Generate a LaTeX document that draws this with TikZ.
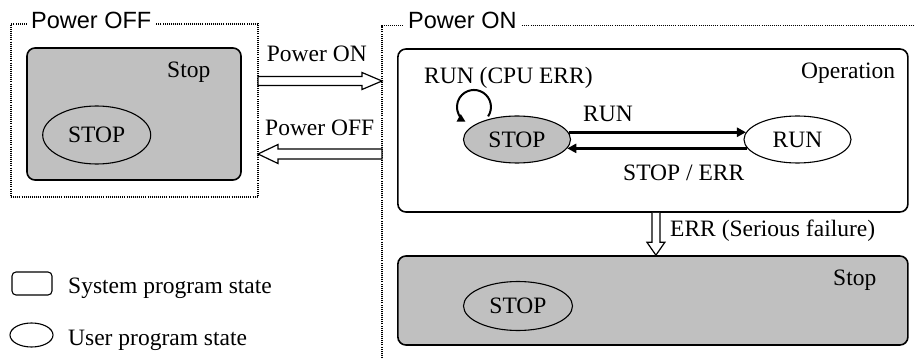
\documentclass[tikz,border=0pt]{standalone}
\usepackage{fontspec}
\setmainfont{Liberation Serif}
\newfontfamily\headfont{Liberation Sans}
\usetikzlibrary{shapes.geometric,arrows.meta,calc}
\definecolor{stategray}{RGB}{192,192,192}

\begin{document}
\begin{tikzpicture}[x=1pt,y=1pt,
  every node/.style={font=\fontsize{23.5}{28}\selectfont, inner sep=0pt},
  txt/.style={anchor=base west},
  frame/.style={line width=1.3pt, dash pattern=on 1pt off 1.1pt},
  framehead/.style={anchor=base west, font=\headfont\fontsize{23.5}{28}\selectfont,
                    fill=white, inner xsep=4pt, inner ysep=3pt},
  sysstate/.style={draw, line width=1.6pt, rounded corners=8pt},
  usrstate/.style={draw, ellipse, line width=1.1pt},
  grayfill/.style={fill=stategray},
  trans/.style={line width=2.6pt, -{Triangle[length=9pt,width=9pt]}},
  selfloop/.style={line width=2pt, -{Triangle[length=8pt,width=8pt]}},
  hollow/.style={draw, line width=1.2pt, fill=white, line join=miter},
]
\useasboundingbox (0,0) rectangle (915,-358);

% ---- Power OFF area ----
\node[frame, draw, minimum width=247, minimum height=173] (offframe) at (134.5,-110.5) {};
\node[framehead] (offhead) at (27,-28.3) {Power OFF};
\node[sysstate, grayfill, minimum width=214, minimum height=132] (offbox) at (134,-114) {};
\node[txt] (offboxlbl) at (167,-78) {Stop};
\node[usrstate, grayfill, minimum width=108, minimum height=58] (offstop) at (96.7,-135) {STOP};

% ---- Power ON area ----
\draw[frame] (382,-358) -- (382,-25.6) -- (915,-25.6);
\node[framehead] (onhead) at (404,-29) {Power ON};

\node[sysstate, fill=white, minimum width=510, minimum height=163] (opbox) at (652.9,-130.5) {};
\node[txt] (opboxlbl) at (801,-79) {Operation};
\node[usrstate, grayfill, minimum width=107, minimum height=47] (runstop) at (517,-139.5) {STOP};
\node[usrstate, fill=white, minimum width=107, minimum height=47] (runrun) at (797.5,-139.5) {RUN};

\draw[trans] (runstop.8) -- (runrun.172);
\draw[trans] (runrun.190.5) -- (runstop.-10.5);
\draw[selfloop] ([shift={(-28.9,23.1)}]runstop.center) arc[start angle=-33.7, end angle=240.6, radius=17];

\node[txt] (cpuerrlbl) at (424,-83.6) {RUN (CPU ERR)};
\node[txt] (runlbl) at (583,-122) {RUN};
\node[txt] (stoperrlbl) at (623,-181) {STOP / ERR};

\node[sysstate, grayfill, minimum width=510, minimum height=89] (haltbox) at (652.9,-300.5) {};
\node[txt] (haltboxlbl) at (833,-285) {Stop};
\node[usrstate, grayfill, minimum width=109, minimum height=49] (haltstop) at (518,-306) {STOP};

% ---- serious failure transition ----
\coordinate (errA) at ($(opbox.south)+(3,0)$);
\coordinate (errB) at ($(haltbox.north)+(3,0)$);
\draw[hollow] ($(errA)+(-4,0)$) -- ($(errB)+(-4,13)$) -- ($(errB)+(-9,13)$) -- (errB)
  -- ($(errB)+(9,13)$) -- ($(errB)+(4,13)$) -- ($(errA)+(4,0)$);
\node[txt] (errlbl) at (670,-236) {ERR (Serious failure)};

% ---- power transitions ----
\coordinate (pwonA) at (258,-81);
\coordinate (pwonB) at (382,-81);
\draw[hollow] ($(pwonA)+(0,4.5)$) -- ($(pwonB)+(-20,4.5)$) -- ($(pwonB)+(-20,8.5)$) -- (pwonB)
  -- ($(pwonB)+(-20,-8.5)$) -- ($(pwonB)+(-20,-4.5)$) -- ($(pwonA)+(0,-4.5)$) -- cycle;
\node[txt] (pwonlbl) at (266.7,-61.7) {Power ON};

\coordinate (pwoffA) at (382,-154);
\coordinate (pwoffB) at (258,-154);
\draw[hollow] ($(pwoffA)+(0,5)$) -- ($(pwoffB)+(20,5)$) -- ($(pwoffB)+(20,9.5)$) -- (pwoffB)
  -- ($(pwoffB)+(20,-9.5)$) -- ($(pwoffB)+(20,-5)$) -- ($(pwoffA)+(0,-5)$) -- cycle;
\node[txt] (pwofflbl) at (265,-136) {Power OFF};

% ---- legend ----
\node[sysstate, line width=1.1pt, rounded corners=4pt, minimum width=40, minimum height=23] (legsys) at (32,-283.5) {};
\node[txt] (legsyslbl) at (68,-293) {System program state};
\node[usrstate, minimum width=43, minimum height=24] (legusr) at (31.5,-335) {};
\node[txt] (legusrlbl) at (68,-345) {User program state};
\end{tikzpicture}
\end{document}
